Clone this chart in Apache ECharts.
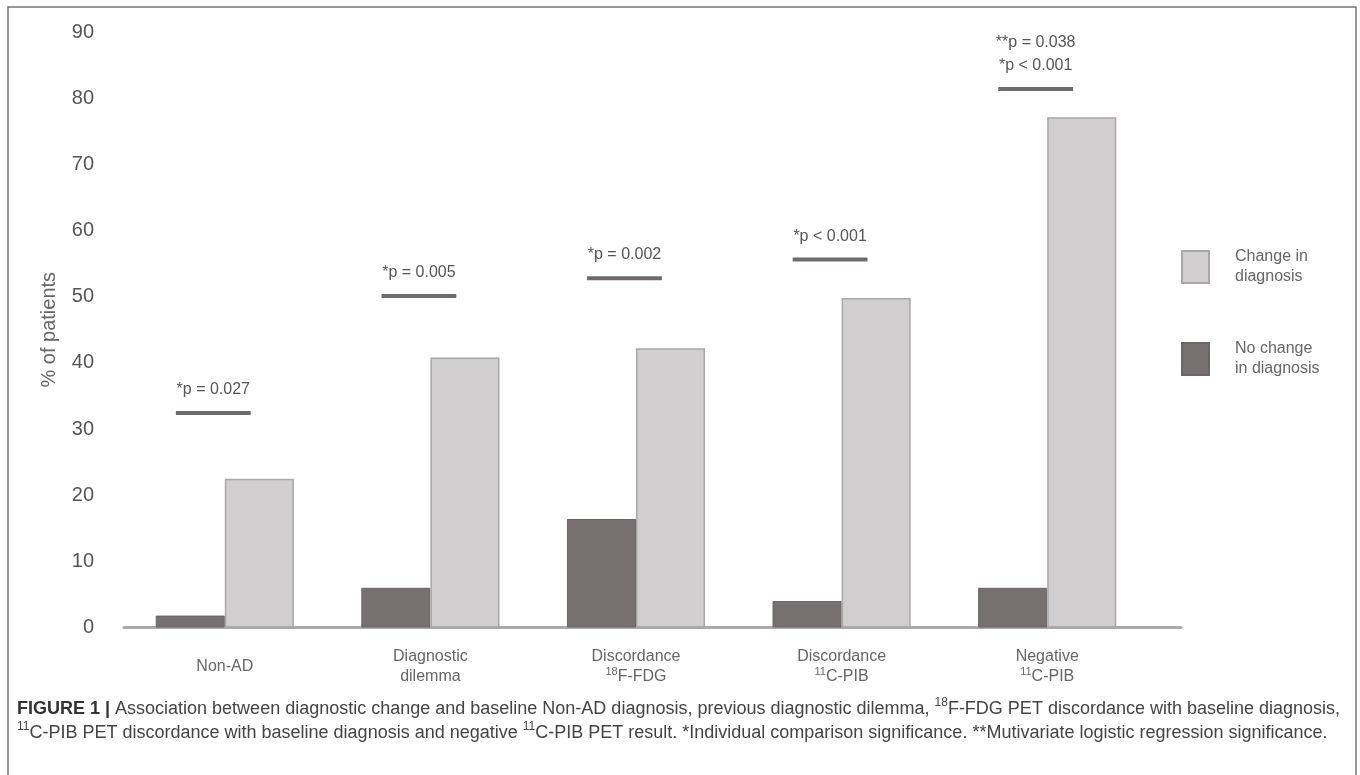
<!DOCTYPE html>
<html>
<head>
<meta charset="utf-8">
<script src="https://cdn.jsdelivr.net/npm/echarts@6/dist/echarts.min.js"></script>
<style>
  html, body { margin: 0; padding: 0; background: #ffffff; }
  #chart { width: 1360px; height: 775px; }
</style>
</head>
<body>
<div id="chart"></div>
<script>
// ---- data ----
const categories = [
  'Non-AD',
  'Diagnostic\ndilemma',
  'Discordance\n{sup|18}F-FDG',
  'Discordance\n{sup|11}C-PIB',
  'Negative\n{sup|11}C-PIB'
];
const noChange = [1.8, 6.0, 16.4, 4.0, 6.0];
const changeDx = [22.5, 40.8, 42.2, 49.8, 77.1];
const sigLevels = [32.4, 50.1, 52.8, 55.6, 81.4];
const sigLabels = [
  '*p = 0.027',
  '*p = 0.005',
  '*p = 0.002',
  '*p < 0.001',
  '**p = 0.038\n*p < 0.001'
];
const yTicks = { min: 0, max: 90, interval: 10 };
const seriesNames = ['No change\nin diagnosis', 'Change in\ndiagnosis'];

const FONT = '"Liberation Sans", Arial, Helvetica, sans-serif';

const chart = echarts.init(document.getElementById('chart'), null, { renderer: 'canvas' });

const option = {
  backgroundColor: '#ffffff',
  animation: false,
  textStyle: { fontFamily: FONT },
  title: {
    left: 17,
    top: 697,
    padding: 0,
    text: '{b|FIGURE 1 |} Association between diagnostic change and baseline Non-AD diagnosis, previous diagnostic dilemma, {sup|18}F-FDG PET discordance with baseline diagnosis,\n{sup|11}C-PIB PET discordance with baseline diagnosis and negative {sup|11}C-PIB PET result. *Individual comparison significance. **Mutivariate logistic regression significance.',
    textStyle: {
      fontFamily: FONT,
      fontSize: 18,
      fontWeight: 'normal',
      color: '#444444',
      lineHeight: 24,
      rich: {
        b: { fontFamily: FONT, fontSize: 18, fontWeight: 'bold', color: '#333333', lineHeight: 24 },
        sup: { fontFamily: FONT, fontSize: 12, color: '#444444', lineHeight: 14, verticalAlign: 'top' }
      }
    }
  },
  legend: {
    orient: 'vertical',
    left: 1181,
    top: 247,
    padding: 0,
    itemWidth: 27,
    itemHeight: 32,
    itemGap: 52,
    icon: 'rect',
    data: [seriesNames[1], seriesNames[0]],
    textStyle: {
      fontFamily: FONT,
      fontSize: 16,
      color: '#666666',
      lineHeight: 20,
      padding: [0, 0, 0, 21]
    }
  },
  grid: [
    { left: 122, right: 210, top: 32, bottom: 147.5 },
    { left: 124, right: 179, top: 32, bottom: 147.5 }
  ],
  xAxis: [
    {
      type: 'category',
      gridIndex: 0,
      data: categories,
      axisLine: { show: false },
      axisTick: { show: false },
      axisLabel: {
        interval: 0,
        margin: 39,
        verticalAlign: 'middle',
        fontFamily: FONT,
        fontSize: 16,
        color: '#666666',
        lineHeight: 19.5,
        rich: {
          sup: { fontFamily: FONT, fontSize: 11, color: '#666666', lineHeight: 11, verticalAlign: 'top' }
        }
      }
    },
    {
      type: 'value',
      gridIndex: 1,
      min: 0,
      max: 1,
      axisLine: { show: true, lineStyle: { color: '#aaaaaa', width: 3 } },
      axisTick: { show: false },
      axisLabel: { show: false },
      splitLine: { show: false }
    }
  ],
  yAxis: [
    {
      type: 'value',
      gridIndex: 0,
      min: yTicks.min,
      max: yTicks.max,
      interval: yTicks.interval,
      name: '% of patients',
      nameLocation: 'middle',
      nameRotate: 90,
      nameGap: 63,
      nameTextStyle: { fontFamily: FONT, fontSize: 20, color: '#666666' },
      axisLine: { show: false },
      axisTick: { show: false },
      splitLine: { show: false },
      axisLabel: { margin: 28, fontFamily: FONT, fontSize: 20, color: '#555555' }
    },
    {
      type: 'value',
      gridIndex: 1,
      show: false,
      min: 0,
      max: 1
    }
  ],
  graphic: [
    {
      type: 'rect',
      silent: true,
      z: -1,
      shape: { x: 8, y: 7, width: 1348, height: 820 },
      style: { fill: 'none', stroke: '#777777', lineWidth: 1.5 }
    }
  ],
  series: [
    {
      name: seriesNames[0],
      type: 'bar',
      xAxisIndex: 0,
      yAxisIndex: 0,
      data: noChange,
      barWidth: '33.6%',
      barGap: '0%',
      itemStyle: { color: '#767071', borderColor: '#6a6566', borderWidth: 1 }
    },
    {
      name: seriesNames[1],
      type: 'bar',
      xAxisIndex: 0,
      yAxisIndex: 0,
      data: changeDx,
      barWidth: '33.6%',
      barGap: '0%',
      itemStyle: { color: '#d0cecf', borderColor: '#a9a7a8', borderWidth: 1.5 }
    },
    {
      name: 'significance',
      type: 'custom',
      xAxisIndex: 0,
      yAxisIndex: 0,
      encode: { x: 0, y: 1 },
      data: sigLevels.map((v, i) => [i, v]),
      z: 5,
      renderItem: function (params, api) {
        const c = api.coord([api.value(0), api.value(1)]);
        const w = api.size([1, 0])[0];
        const x0 = c[0] - w * 0.238;
        const x1 = c[0] + w * 0.126;
        return {
          type: 'group',
          children: [
            {
              type: 'rect',
              shape: { x: x0, y: c[1] - 2, width: x1 - x0, height: 4 },
              style: { fill: '#6f6a6b' }
            },
            {
              type: 'text',
              style: {
                text: sigLabels[params.dataIndex],
                x: (x0 + x1) / 2,
                y: c[1] - 12,
                align: 'center',
                verticalAlign: 'bottom',
                fill: '#555555',
                font: '16px ' + FONT,
                lineHeight: 23
              }
            }
          ]
        };
      }
    }
  ]
};

chart.setOption(option);
</script>
</body>
</html>
